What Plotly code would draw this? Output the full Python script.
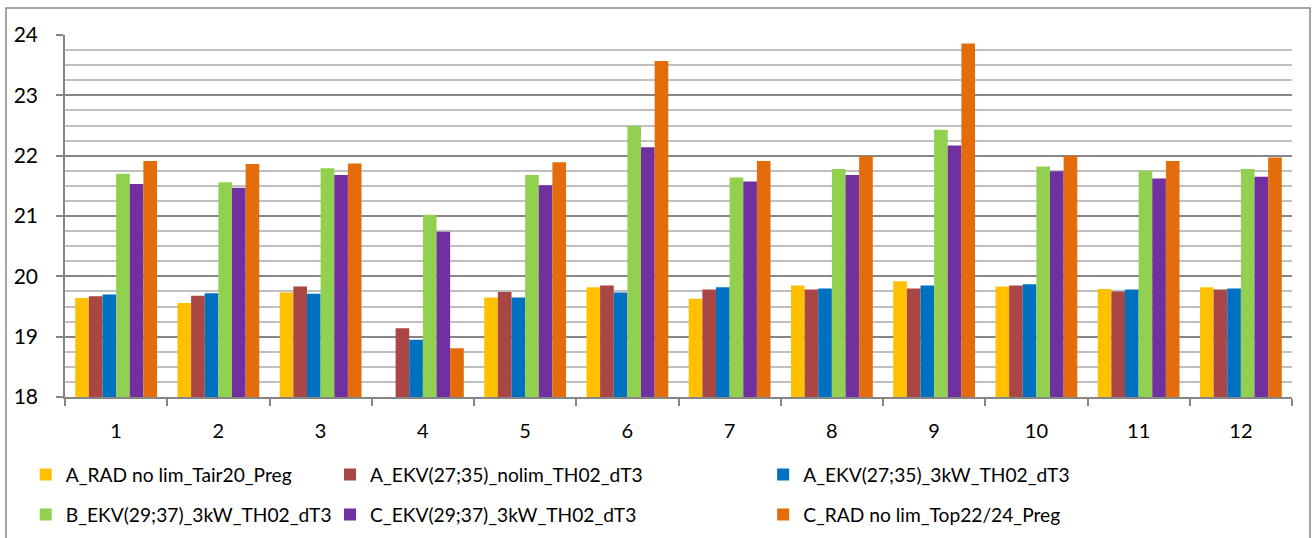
import plotly.graph_objects as go

categories = ["1", "2", "3", "4", "5", "6", "7", "8", "9", "10", "11", "12"]

a_rad_tair20 = [19.64, 19.56, 19.73, 17.97, 19.65, 19.82, 19.63, 19.85, 19.92, 19.83, 19.79, 19.82]
a_ekv_nolim = [19.67, 19.68, 19.83, 19.14, 19.74, 19.85, 19.78, 19.78, 19.80, 19.85, 19.75, 19.78]
a_ekv_3kw = [19.70, 19.72, 19.71, 18.95, 19.65, 19.73, 19.82, 19.80, 19.85, 19.87, 19.78, 19.80]
b_ekv_3kw = [21.70, 21.56, 21.79, 21.02, 21.68, 22.49, 21.64, 21.78, 22.43, 21.82, 21.75, 21.78]
c_ekv_3kw = [21.53, 21.47, 21.68, 20.74, 21.51, 22.14, 21.57, 21.68, 22.17, 21.74, 21.62, 21.65]
c_rad_top = [21.91, 21.86, 21.87, 18.81, 21.89, 23.57, 21.91, 21.99, 23.86, 22.00, 21.91, 21.97]

series = [
    ("A_RAD no lim_Tair20_Preg", a_rad_tair20, "#FFC000", "legend"),
    ("A_EKV(27;35)_nolim_TH02_dT3", a_ekv_nolim, "#AA4643", "legend2"),
    ("A_EKV(27;35)_3kW_TH02_dT3", a_ekv_3kw, "#0070C0", "legend3"),
    ("B_EKV(29;37)_3kW_TH02_dT3", b_ekv_3kw, "#92D050", "legend"),
    ("C_EKV(29;37)_3kW_TH02_dT3", c_ekv_3kw, "#7030A0", "legend2"),
    ("C_RAD no lim_Top22/24_Preg", c_rad_top, "#E46C0A", "legend3"),
]

FONT = "Lato, Open Sans, sans-serif"

fig = go.Figure()
for i, (name, vals, color, leg) in enumerate(series):
    fig.add_trace(go.Bar(
        x=categories, y=vals, name=name, legend=leg, legendgroup=name,
        marker=dict(color=color, line=dict(width=0)),
    ))

legend_common = dict(
    orientation="v", yanchor="top", y=-0.162, xanchor="left",
    font=dict(family=FONT, size=19.2, color="#000000"),
    tracegroupgap=12, bgcolor="rgba(0,0,0,0)", borderwidth=0,
)

fig.update_layout(
    width=1312, height=538,
    margin=dict(l=65, r=20, t=35, b=141, autoexpand=False),
    paper_bgcolor="white", plot_bgcolor="white",
    barmode="group", bargap=0.2, bargroupgap=0,
    font=dict(family=FONT, size=19.2, color="#000000"),
    showlegend=True,
    legend=dict(x=-0.032, **legend_common),
    legend2=dict(x=0.216, **legend_common),
    legend3=dict(x=0.569, **legend_common),
    xaxis=dict(
        type="category", showgrid=False, showline=True, linecolor="#868686", linewidth=1.5,
        ticks="outside", tickson="boundaries", ticklen=7, tickcolor="#868686", tickwidth=1.5,
        tickfont=dict(family=FONT, size=20), ticklabelstandoff=15,
    ),
    yaxis=dict(
        range=[18, 24], dtick=1, showgrid=True, gridcolor="#868686", gridwidth=1.5,
        showline=True, linecolor="#868686", linewidth=1.5,
        ticks="outside", ticklen=7, tickcolor="#868686", tickwidth=1.5,
        tickfont=dict(family=FONT, size=21), ticklabelstandoff=14,
        zeroline=False,
        minor=dict(dtick=0.25, showgrid=True, gridcolor="#C0C0C0", gridwidth=1.5, ticks=""),
    ),
    shapes=[dict(
        type="rect", xref="paper", yref="paper",
        x0=-0.0481, x1=1.0147, y0=-0.6, y1=1.0746,
        line=dict(color="#868686", width=1.5), fillcolor="rgba(0,0,0,0)", layer="below",
    )],
)

fig.write_html(
    "out.html",
    config={"displayModeBar": False},
    post_script="document.body.style.margin='0';document.body.style.overflow='hidden';",
)
